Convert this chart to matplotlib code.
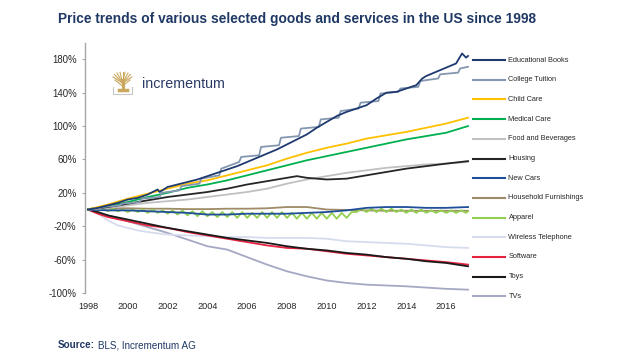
import matplotlib
matplotlib.use('Agg')
import matplotlib.pyplot as plt
from matplotlib.lines import Line2D
from matplotlib.transforms import Affine2D
import numpy as np

plt.rcParams['font.family'] = ['Liberation Sans', 'DejaVu Sans']

# ---------------- data (% change since 1998) ----------------
years = [1998, 1999, 2000, 2001, 2002, 2003, 2004, 2005, 2006, 2007,
         2008, 2009, 2010, 2011, 2012, 2013, 2014, 2015, 2016, 2017.1]

edu_books_x = [1998.0, 1998.5, 1999.0, 1999.5, 2000.0, 2000.5, 2001.0, 2001.5, 2001.6,
               2002.0, 2002.5, 2003.0, 2003.5, 2004.0, 2004.5, 2005.0, 2005.5, 2006.0,
               2006.5, 2007.0, 2007.5, 2008.0, 2008.5, 2009.0, 2009.5, 2010.0, 2010.5,
               2011.0, 2011.5, 2012.0, 2012.5, 2013.0, 2013.5, 2014.0, 2014.5, 2014.8,
               2015.0, 2015.5, 2016.0, 2016.5, 2016.8, 2017.0, 2017.1]
edu_books = [0, 2, 5, 8, 12, 14, 18, 24, 21,
             27, 30, 33, 36, 40, 44, 48, 52, 57,
             62, 67, 72, 78, 84, 90, 98, 105, 112,
             117, 121, 125, 133, 140, 141, 145, 149, 157,
             160, 165, 170, 175, 187, 182, 184]

tuition_x = [1998.0, 1998.6, 1998.7, 1999.6, 1999.7, 2000.6, 2000.7, 2001.6, 2001.7,
             2002.6, 2002.7, 2003.6, 2003.7, 2004.6, 2004.7, 2005.6, 2005.7, 2006.6,
             2006.7, 2007.6, 2007.7, 2008.6, 2008.7, 2009.6, 2009.7, 2010.6, 2010.7,
             2011.6, 2011.7, 2012.6, 2012.7, 2013.6, 2013.7, 2014.6, 2014.7, 2015.6,
             2015.7, 2016.6, 2016.7, 2017.1]
tuition = [0, 1, 3, 5, 7, 9, 13, 15, 20,
           23, 28, 31, 37, 41, 49, 57, 63, 65,
           75, 77, 86, 88, 97, 99, 108, 110, 118,
           121, 128, 130, 139, 141, 145, 147, 154, 157,
           162, 164, 169, 171]

child_care = [0, 6, 13, 19, 25, 31, 35, 41, 47, 53, 61, 68, 74, 79, 85, 89, 93, 98, 103, 110]
medical_care = [0, 4, 9, 15, 20, 26, 30, 35, 41, 47, 53, 59, 64, 69, 74, 79, 84, 88, 92, 100]
food_bev = [0, 2, 5, 8, 10, 12, 15, 18, 21, 25, 31, 36, 40, 44, 47, 50, 52, 54, 55, 57]

housing_x = [1998, 1999, 2000, 2001, 2002, 2003, 2004, 2005, 2006, 2007, 2008, 2008.5,
             2009, 2010, 2011, 2012, 2013, 2014, 2015, 2016, 2017.1]
housing = [0, 3, 7, 11, 15, 18, 21, 25, 30, 34, 38, 40, 38, 36, 37, 41, 45, 49, 52, 55, 58]

new_cars = [0, -1, -1, -2, -3, -4, -6, -6, -5, -5, -5, -4, -3, -1, 2, 3, 3, 2, 2, 3]
furnishings = [0, 1.5, 1.5, 1, 1, 0.5, 0.5, 1, 1, 1.5, 3, 3, 0, -0.5, -1, -1.5, -1.5, -1.5, -1.5, -1.5]

apparel_x = list(np.arange(1998.0, 2017.01, 0.25)) + [2017.1]
apparel = [0, 2, -1, 1,
           -2, 1, -2, 0,
           -3, 0, -3, 0,
           -4, 0, -4, -1,
           -5, -1, -6, -1,
           -7, -2, -8, -2,
           -8, -3, -9, -3,
           -9, -3, -10, -3,
           -10, -4, -10, -3,
           -10, -3, -10, -3,
           -10, -4, -11, -4,
           -11, -4, -11, -4,
           -11, -4, -11, -4,
           -10, -3, -3, 1,
           -3, 1, -3, 1,
           -3, 1, -3, 0,
           -4, 0, -4, 0,
           -4, -1, -4, -1,
           -4, -1, -4, -1,
           -4, -2]

wireless_x = [1998, 1998.5, 1999, 1999.5, 2000, 2000.5, 2001, 2002, 2003, 2004, 2005, 2006,
              2007, 2008, 2009, 2010, 2011, 2012, 2013, 2014, 2015, 2016, 2017.1]
wireless = [0, -5, -13, -19, -22, -25, -27, -30, -31, -32, -33, -33,
            -34, -34, -34, -35, -38, -39, -40, -41, -43, -45, -46]

soft_toys_x = [1998, 1998.5, 1999, 2000, 2001, 2002, 2003, 2004, 2005, 2006, 2007,
               2008, 2009, 2010, 2011, 2012, 2013, 2014, 2015, 2016, 2017.1]
software = [0, -5, -9, -14, -19, -22, -27, -31, -35, -39, -43,
            -46, -47, -50, -53, -55, -57, -59, -61, -63, -66]
toys = [0, -3, -7, -12, -17, -22, -26, -30, -34, -37, -40,
        -44, -47, -49, -52, -54, -57, -59, -62, -64, -68]

tvs = [0, -7, -14, -21, -28, -36, -44, -48, -57, -66, -74, -80, -85, -88, -90, -91, -92, -93.5, -95, -96]

labels = ['Educational Books', 'College Tuition', 'Child Care', 'Medical Care',
          'Food and Beverages', 'Housing', 'New Cars', 'Household Furnishings',
          'Apparel', 'Wireless Telephone', 'Software', 'Toys', 'TVs']
colors = ['#1F3A70', '#8497B0', '#FFC000', '#00B050', '#C0C0C0', '#262626', '#1F4E9A',
          '#9E8B67', '#92D050', '#D6DCEE', '#E8213F', '#1A1A1A', '#A5A8C2']
series = [(edu_books_x, edu_books), (tuition_x, tuition), (years, child_care),
          (years, medical_care), (years, food_bev), (housing_x, housing),
          (years, new_cars), (years, furnishings), (apparel_x, apparel),
          (wireless_x, wireless), (soft_toys_x, software), (soft_toys_x, toys),
          (years, tvs)]

yticks = [-100, -60, -20, 20, 60, 100, 140, 180]
xticks = [1998, 2000, 2002, 2004, 2006, 2008, 2010, 2012, 2014, 2016]

# ---------------- figure ----------------
W, H = 630, 359
fig = plt.figure(figsize=(W / 100, H / 100), dpi=100)
pix = Affine2D().scale(1.0 / W, -1.0 / H).translate(0, 1) + fig.transFigure

ax = fig.add_axes([85 / W, 1 - 293 / H, (472 - 85) / W, (293 - 42.6) / H])
ax.set_xlim(1997.85, 2017.3)
ax.set_ylim(-100, 200)

zorders = [12, 11, 10, 9, 8, 8.5, 7, 6, 6.5, 5, 5.5, 5.7, 4]
for (x, y), c, z in zip(series, colors, zorders):
    ax.plot(x, y, color=c, lw=1.3, zorder=z, solid_joinstyle='round')

for s in ['top', 'right', 'bottom']:
    ax.spines[s].set_visible(False)
ax.spines['left'].set_color('#A6A6A6')
ax.spines['left'].set_linewidth(1.0)

ax.set_yticks(yticks)
ax.set_yticklabels([f'{v}%' for v in yticks])
ax.set_xticks(xticks)
ax.set_xticklabels([str(v) for v in xticks])
ax.tick_params(axis='y', direction='out', length=2.5, width=0.8, color='#A6A6A6',
               labelsize=6.9, labelcolor='#262626', pad=3.5)
ax.tick_params(axis='x', length=0, labelsize=6.6, labelcolor='#262626', pad=6.5)
ax.patch.set_alpha(0)

# legend (manual, right side)
for i, (lab, c) in enumerate(zip(labels, colors)):
    yy = 60 + i * 19.7
    fig.add_artist(Line2D([473, 505], [yy, yy], color=c, lw=1.5, transform=pix))
    fig.text(508.5, yy, lab, transform=pix, fontsize=5.3, color='#262626',
             va='center', ha='left')

# title
fig.text(58, 19, 'Price trends of various selected goods and services in the US since 1998',
         transform=pix, fontsize=9.9, fontweight='bold', color='#1F3864',
         va='center', ha='left')

# source
t1 = fig.text(58, 348, 'Source:', transform=pix, fontsize=7.1, fontweight='bold',
              color='#1F3864', va='baseline', ha='left')
fig.canvas.draw()
bb = t1.get_window_extent()
fig.text(bb.x1 + 2.5, 348, 'BLS, Incrementum AG', transform=pix, fontsize=7.1,
         color='#1F3864', va='baseline', ha='left')

# logo
gold = '#C9A85C'
cx = 122.5
fig.add_artist(Line2D([cx, cx], [89, 80], color=gold, lw=2.2, transform=pix))
for tx, ty in [(113, 77), (114.5, 74.5), (117, 73), (120, 72.3), (122.5, 72),
               (125, 72.3), (128, 73), (130.5, 74.5), (132, 77)]:
    fig.add_artist(Line2D([cx, tx], [83, ty], color=gold, lw=0.8, transform=pix))
for tx, ty in [(115, 80), (130, 80)]:
    fig.add_artist(Line2D([cx, tx], [86, ty], color=gold, lw=0.8, transform=pix))
fig.add_artist(Line2D([118.5, 126.5], [89.5, 89.5], color=gold, lw=2.5, transform=pix))
fig.add_artist(Line2D([113, 113, 132, 132], [87, 94, 94, 87], color='#C8C8C8', lw=0.8,
                      transform=pix))
fig.text(142, 84, 'incrementum', transform=pix, fontsize=10.3, color='#2B3A67',
         va='center', ha='left')

fig.savefig('out.png', dpi=100)
